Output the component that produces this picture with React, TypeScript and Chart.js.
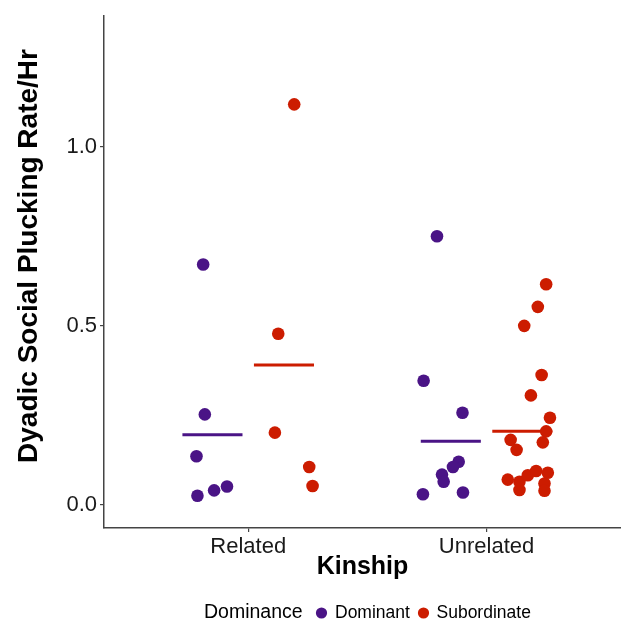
import React, { useEffect, useRef } from "react";
import { Chart, registerables } from "chart.js";
Chart.register(...registerables);

const categories = ["Related", "Unrelated"];
const groups = ["Dominant", "Subordinate"];
const yTickValues = [0, 0.5, 1.0];
const xTitle = "Kinship";
const yTitle = "Dyadic Social Plucking Rate/Hr";
const legendTitle = "Dominance";

// x values in category units (Related = 1, Unrelated = 2), dodged + jittered as in the picture
const relatedDominantX = [0.811, 0.818, 0.783, 0.787, 0.857, 0.911];
const relatedDominantY = [0.671, 0.253, 0.136, 0.026, 0.041, 0.052];

const relatedSubordinateX = [1.193, 1.126, 1.112, 1.256, 1.27];
const relatedSubordinateY = [1.118, 0.478, 0.202, 0.106, 0.053];

const unrelatedDominantX = [1.792, 1.736, 1.899, 1.883, 1.859, 1.813, 1.82, 1.733, 1.901];
const unrelatedDominantY = [0.75, 0.347, 0.2575, 0.121, 0.106, 0.085, 0.065, 0.03, 0.035];

const unrelatedSubordinateX = [
  2.25, 2.215, 2.158, 2.231, 2.186, 2.266, 2.25, 2.101, 2.236, 2.126,
  2.089, 2.138, 2.138, 2.173, 2.208, 2.257, 2.243, 2.243,
];
const unrelatedSubordinateY = [
  0.616, 0.553, 0.5, 0.363, 0.306, 0.2436, 0.2056, 0.182, 0.175, 0.154,
  0.071, 0.065, 0.042, 0.083, 0.095, 0.09, 0.06, 0.04,
];

// group means per category (Related, Unrelated)
const meanDominant = [0.196, 0.178];
const meanSubordinate = [0.391, 0.2056];

const PURPLE = "#4A1486";
const RED = "#CC1C00";
const FAMILY = "'Liberation Sans', Arial, Helvetica, sans-serif";
const DODGE = 0.15;
const HALF = 0.126;

export default function App() {
  const ref = useRef<HTMLCanvasElement>(null);

  useEffect(() => {
    document.body.style.margin = "0";
    const canvas = ref.current!;
    const pts = (xs: number[], ys: number[]) => xs.map((x, i) => ({ x, y: ys[i] }));
    const seg = (c: number, m: number) => [
      { x: c - HALF, y: m },
      { x: c + HALF, y: m },
    ];

    const datasets: any[] = [
      {
        type: "scatter",
        label: groups[0],
        data: [...pts(relatedDominantX, relatedDominantY), ...pts(unrelatedDominantX, unrelatedDominantY)],
        backgroundColor: PURPLE,
        borderColor: PURPLE,
        borderWidth: 0,
        pointRadius: 6.3,
        order: 0,
      },
      {
        type: "scatter",
        label: groups[1],
        data: [...pts(relatedSubordinateX, relatedSubordinateY), ...pts(unrelatedSubordinateX, unrelatedSubordinateY)],
        backgroundColor: RED,
        borderColor: RED,
        borderWidth: 0,
        pointRadius: 6.3,
        order: 0,
      },
      ...categories.map((_, i) => ({
        type: "line",
        label: groups[0] + " mean",
        data: seg(i + 1 - DODGE, meanDominant[i]),
        borderColor: PURPLE,
        borderWidth: 3,
        pointRadius: 0,
        borderCapStyle: "butt",
        order: 1,
      })),
      ...categories.map((_, i) => ({
        type: "line",
        label: groups[1] + " mean",
        data: seg(i + 1 + DODGE, meanSubordinate[i]),
        borderColor: RED,
        borderWidth: 3,
        pointRadius: 0,
        borderCapStyle: "butt",
        order: 1,
      })),
    ];

    const decorPlugin = {
      id: "ggDecor",
      afterDraw(chart: any) {
        const ctx = chart.ctx;
        ctx.save();
        // y axis title
        ctx.save();
        ctx.translate(29, 256);
        ctx.rotate(-Math.PI / 2);
        ctx.textAlign = "center";
        ctx.textBaseline = "middle";
        ctx.fillStyle = "#000";
        ctx.font = `bold 28px ${FAMILY}`;
        ctx.fillText(yTitle, 0, 0);
        ctx.restore();
        // legend
        const y = 613;
        ctx.textBaseline = "middle";
        ctx.textAlign = "left";
        ctx.fillStyle = "#000";
        ctx.font = `19.5px ${FAMILY}`;
        ctx.fillText(legendTitle, 204, y);
        ctx.font = `17.5px ${FAMILY}`;
        const items = [
          { c: PURPLE, label: groups[0], cx: 321.5, tx: 335 },
          { c: RED, label: groups[1], cx: 423.5, tx: 436.5 },
        ];
        for (const it of items) {
          ctx.beginPath();
          ctx.fillStyle = it.c;
          ctx.arc(it.cx, y, 5.6, 0, Math.PI * 2);
          ctx.fill();
          ctx.fillStyle = "#000";
          ctx.fillText(it.label, it.tx, y);
        }
        ctx.restore();
      },
    };

    const chart = new Chart(canvas, {
      type: "scatter",
      data: { datasets },
      options: {
        responsive: false,
        animation: false,
        events: [],
        layout: { autoPadding: false, padding: { top: 14, left: 0, right: 0, bottom: 0 } },
        plugins: { legend: { display: false }, tooltip: { enabled: false } },
        scales: {
          x: {
            type: "linear",
            min: 0.395,
            max: 2.564,
            afterBuildTicks: (s: any) => {
              s.ticks = categories.map((_, i) => ({ value: i + 1 }));
            },
            afterFit: (s: any) => {
              s.height = 92;
            },
            ticks: {
              callback: (v: any) => categories[Math.round(v) - 1] ?? "",
              font: { family: FAMILY, size: 22 },
              color: "#1a1a1a",
              padding: 2,
              maxRotation: 0,
              autoSkip: false,
            },
            grid: { display: true, drawOnChartArea: false, drawTicks: true, tickLength: 4, color: "#444", lineWidth: 1.2 },
            border: { display: true, color: "#444", width: 1.5 },
            title: {
              display: true,
              text: xTitle,
              font: { family: FAMILY, size: 25, weight: "bold" },
              color: "#000",
              padding: { top: 0, bottom: 38 },
            },
          },
          y: {
            type: "linear",
            min: -0.064,
            max: 1.364,
            afterBuildTicks: (s: any) => {
              s.ticks = yTickValues.map((v) => ({ value: v }));
            },
            afterFit: (s: any) => {
              s.width = 104;
            },
            ticks: {
              callback: (v: any) => Number(v).toFixed(1),
              font: { family: FAMILY, size: 22 },
              color: "#1a1a1a",
              padding: 3,
            },
            grid: { display: true, drawOnChartArea: false, drawTicks: true, tickLength: 4, color: "#444", lineWidth: 1.2 },
            border: { display: true, color: "#444", width: 1.5 },
          },
        },
      } as any,
      plugins: [decorPlugin],
    });
    return () => chart.destroy();
  }, []);

  return <canvas ref={ref} width={621} height={620} style={{ display: "block" }} />;
}
